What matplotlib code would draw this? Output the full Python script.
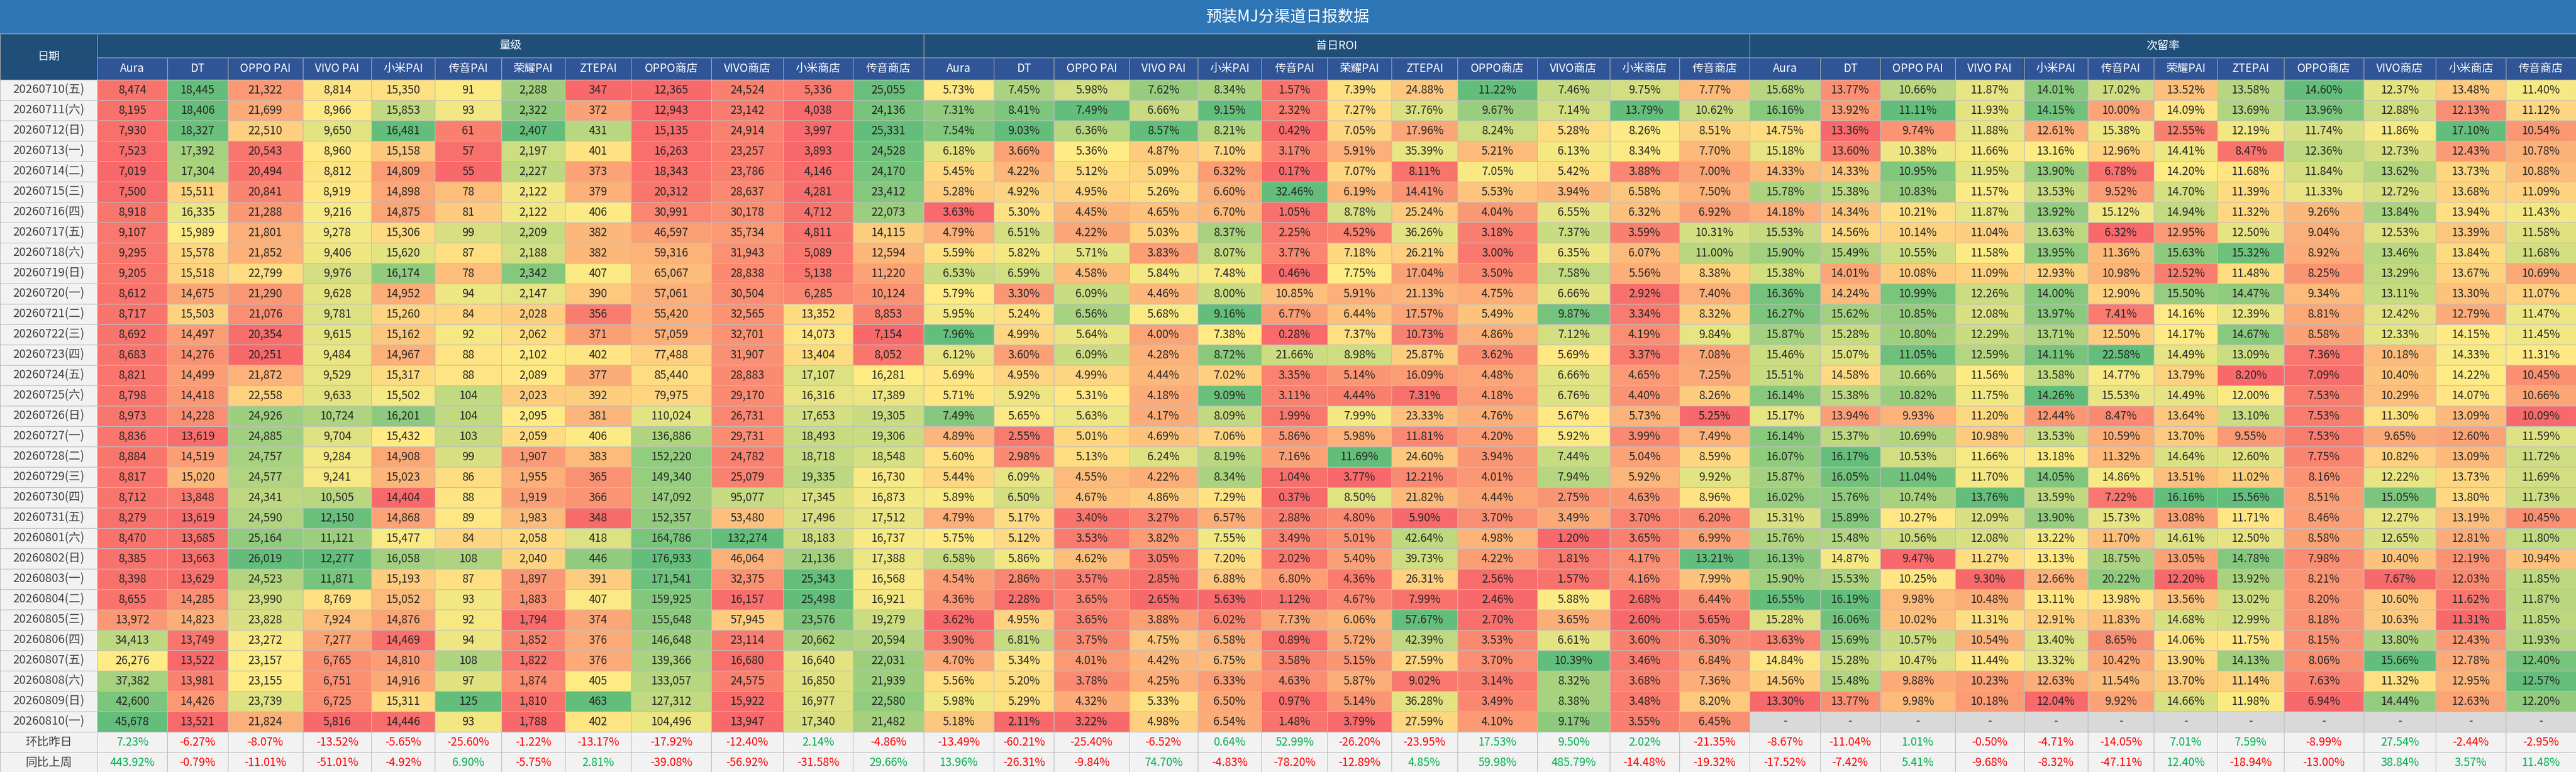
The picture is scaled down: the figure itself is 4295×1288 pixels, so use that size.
import numpy as np
import matplotlib
matplotlib.use('Agg')
import matplotlib.pyplot as plt
import matplotlib.patches as patches

plt.rcParams['font.family'] = ['Noto Sans CJK SC', 'DejaVu Sans']

title = '预装MJ分渠道日报数据'
groups = ['量级', '首日ROI', '次留率']
channels = ['Aura', 'DT', 'OPPO PAI', 'VIVO PAI', '小米PAI', '传音PAI', '荣耀PAI', 'ZTEPAI',
            'OPPO商店', 'VIVO商店', '小米商店', '传音商店']
dates = ['20260710(五)', '20260711(六)', '20260712(日)', '20260713(一)', '20260714(二)', '20260715(三)',
         '20260716(四)', '20260717(五)', '20260718(六)', '20260719(日)', '20260720(一)', '20260721(二)',
         '20260722(三)', '20260723(四)', '20260724(五)', '20260725(六)', '20260726(日)', '20260727(一)',
         '20260728(二)', '20260729(三)', '20260730(四)', '20260731(五)', '20260801(六)', '20260802(日)',
         '20260803(一)', '20260804(二)', '20260805(三)', '20260806(四)', '20260807(五)', '20260808(六)',
         '20260809(日)', '20260810(一)']
summary_labels = ['环比昨日', '同比上周']

volume = [
    [8474, 18445, 21322, 8814, 15350, 91, 2288, 347, 12365, 24524, 5336, 25055],
    [8195, 18406, 21699, 8966, 15853, 93, 2322, 372, 12943, 23142, 4038, 24136],
    [7930, 18327, 22510, 9650, 16481, 61, 2407, 431, 15135, 24914, 3997, 25331],
    [7523, 17392, 20543, 8960, 15158, 57, 2197, 401, 16263, 23257, 3893, 24528],
    [7019, 17304, 20494, 8812, 14809, 55, 2227, 373, 18343, 23786, 4146, 24170],
    [7500, 15511, 20841, 8919, 14898, 78, 2122, 379, 20312, 28637, 4281, 23412],
    [8918, 16335, 21288, 9216, 14875, 81, 2122, 406, 30991, 30178, 4712, 22073],
    [9107, 15989, 21801, 9278, 15306, 99, 2209, 382, 46597, 35734, 4811, 14115],
    [9295, 15578, 21852, 9406, 15620, 87, 2188, 382, 59316, 31943, 5089, 12594],
    [9205, 15518, 22799, 9976, 16174, 78, 2342, 407, 65067, 28838, 5138, 11220],
    [8612, 14675, 21290, 9628, 14952, 94, 2147, 390, 57061, 30504, 6285, 10124],
    [8717, 15503, 21076, 9781, 15260, 84, 2028, 356, 55420, 32565, 13352, 8853],
    [8692, 14497, 20354, 9615, 15162, 92, 2062, 371, 57059, 32701, 14073, 7154],
    [8683, 14276, 20251, 9484, 14967, 88, 2102, 402, 77488, 31907, 13404, 8052],
    [8821, 14499, 21872, 9529, 15317, 88, 2089, 377, 85440, 28883, 17107, 16281],
    [8798, 14418, 22558, 9633, 15502, 104, 2023, 392, 79975, 29170, 16316, 17389],
    [8973, 14228, 24926, 10724, 16201, 104, 2095, 381, 110024, 26731, 17653, 19305],
    [8836, 13619, 24885, 9704, 15432, 103, 2059, 406, 136886, 29731, 18493, 19306],
    [8884, 14519, 24757, 9284, 14908, 99, 1907, 383, 152220, 24782, 18718, 18548],
    [8817, 15020, 24577, 9241, 15023, 86, 1955, 365, 149340, 25079, 19335, 16730],
    [8712, 13848, 24341, 10505, 14404, 88, 1919, 366, 147092, 95077, 17345, 16873],
    [8279, 13619, 24590, 12150, 14868, 89, 1983, 348, 152357, 53480, 17496, 17512],
    [8470, 13685, 25164, 11121, 15477, 84, 2058, 418, 164786, 132274, 18183, 16737],
    [8385, 13663, 26019, 12277, 16058, 108, 2040, 446, 176933, 46064, 21136, 17388],
    [8398, 13629, 24523, 11871, 15193, 87, 1897, 391, 171541, 32375, 25343, 16568],
    [8655, 14285, 23990, 8769, 15052, 93, 1883, 407, 159925, 16157, 25498, 16921],
    [13972, 14823, 23828, 7924, 14876, 92, 1794, 374, 155648, 57945, 23576, 19279],
    [34413, 13749, 23272, 7277, 14469, 94, 1852, 376, 146648, 23114, 20662, 20594],
    [26276, 13522, 23157, 6765, 14810, 108, 1822, 376, 139366, 16680, 16640, 22031],
    [37382, 13981, 23155, 6751, 14916, 97, 1874, 405, 133057, 24575, 16850, 21939],
    [42600, 14426, 23739, 6725, 15311, 125, 1810, 463, 127312, 15922, 16977, 22580],
    [45678, 13521, 21824, 5816, 14446, 93, 1788, 402, 104496, 13947, 17340, 21482],
]
volume_dod = [7.23, -6.27, -8.07, -13.52, -5.65, -25.60, -1.22, -13.17, -17.92, -12.40, 2.14, -4.86]
volume_wow = [443.92, -0.79, -11.01, -51.01, -4.92, 6.90, -5.75, 2.81, -39.08, -56.92, -31.58, 29.66]

roi = [
    [5.73, 7.45, 5.98, 7.62, 8.34, 1.57, 7.39, 24.88, 11.22, 7.46, 9.75, 7.77],
    [7.31, 8.41, 7.49, 6.66, 9.15, 2.32, 7.27, 37.76, 9.67, 7.14, 13.79, 10.62],
    [7.54, 9.03, 6.36, 8.57, 8.21, 0.42, 7.05, 17.96, 8.24, 5.28, 8.26, 8.51],
    [6.18, 3.66, 5.36, 4.87, 7.10, 3.17, 5.91, 35.39, 5.21, 6.13, 8.34, 7.70],
    [5.45, 4.22, 5.12, 5.09, 6.32, 0.17, 7.07, 8.11, 7.05, 5.42, 3.88, 7.00],
    [5.28, 4.92, 4.95, 5.26, 6.60, 32.46, 6.19, 14.41, 5.53, 3.94, 6.58, 7.50],
    [3.63, 5.30, 4.45, 4.65, 6.70, 1.05, 8.78, 25.24, 4.04, 6.55, 6.32, 6.92],
    [4.79, 6.51, 4.22, 5.03, 8.37, 2.25, 4.52, 36.26, 3.18, 7.37, 3.59, 10.31],
    [5.59, 5.82, 5.71, 3.83, 8.07, 3.77, 7.18, 26.21, 3.00, 6.35, 6.07, 11.00],
    [6.53, 6.59, 4.58, 5.84, 7.48, 0.46, 7.75, 17.04, 3.50, 7.58, 5.56, 8.38],
    [5.79, 3.30, 6.09, 4.46, 8.00, 10.85, 5.91, 21.13, 4.75, 6.66, 2.92, 7.40],
    [5.95, 5.24, 6.56, 5.68, 9.16, 6.77, 6.44, 17.57, 5.49, 9.87, 3.34, 8.32],
    [7.96, 4.99, 5.64, 4.00, 7.38, 0.28, 7.37, 10.73, 4.86, 7.12, 4.19, 9.84],
    [6.12, 3.60, 6.09, 4.28, 8.72, 21.66, 8.98, 25.87, 3.62, 5.69, 3.37, 7.08],
    [5.69, 4.95, 4.99, 4.44, 7.02, 3.35, 5.14, 16.09, 4.48, 6.66, 4.65, 7.25],
    [5.71, 5.92, 5.31, 4.18, 9.09, 3.11, 4.44, 7.31, 4.18, 6.76, 4.40, 8.26],
    [7.49, 5.65, 5.63, 4.17, 8.09, 1.99, 7.99, 23.33, 4.76, 5.67, 5.73, 5.25],
    [4.89, 2.55, 5.01, 4.69, 7.06, 5.86, 5.98, 11.81, 4.20, 5.92, 3.99, 7.49],
    [5.60, 2.98, 5.13, 6.24, 8.19, 7.16, 11.69, 24.60, 3.94, 7.44, 5.04, 8.59],
    [5.44, 6.09, 4.55, 4.22, 8.34, 1.04, 3.77, 12.21, 4.01, 7.94, 5.92, 9.92],
    [5.89, 6.50, 4.67, 4.86, 7.29, 0.37, 8.50, 21.82, 4.44, 2.75, 4.63, 8.96],
    [4.79, 5.17, 3.40, 3.27, 6.57, 2.88, 4.80, 5.90, 3.70, 3.49, 3.70, 6.20],
    [5.75, 5.12, 3.53, 3.82, 7.55, 3.49, 5.01, 42.64, 4.98, 1.20, 3.65, 6.99],
    [6.58, 5.86, 4.62, 3.05, 7.20, 2.02, 5.40, 39.73, 4.22, 1.81, 4.17, 13.21],
    [4.54, 2.86, 3.57, 2.85, 6.88, 6.80, 4.36, 26.31, 2.56, 1.57, 4.16, 7.99],
    [4.36, 2.28, 3.65, 2.65, 5.63, 1.12, 4.67, 7.99, 2.46, 5.88, 2.68, 6.44],
    [3.62, 4.95, 3.65, 3.88, 6.02, 7.73, 6.06, 57.67, 2.70, 3.65, 2.60, 5.65],
    [3.90, 6.81, 3.75, 4.75, 6.58, 0.89, 5.72, 42.39, 3.53, 6.61, 3.60, 6.30],
    [4.70, 5.34, 4.01, 4.42, 6.75, 3.58, 5.15, 27.59, 3.70, 10.39, 3.46, 6.84],
    [5.56, 5.20, 3.78, 4.25, 6.33, 4.63, 5.87, 9.02, 3.14, 8.32, 3.68, 7.36],
    [5.98, 5.29, 4.32, 5.33, 6.50, 0.97, 5.14, 36.28, 3.49, 8.38, 3.48, 8.20],
    [5.18, 2.11, 3.22, 4.98, 6.54, 1.48, 3.79, 27.59, 4.10, 9.17, 3.55, 6.45],
]
roi_dod = [-13.49, -60.21, -25.40, -6.52, 0.64, 52.99, -26.20, -23.95, 17.53, 9.50, 2.02, -21.35]
roi_wow = [13.96, -26.31, -9.84, 74.70, -4.83, -78.20, -12.89, 4.85, 59.98, 485.79, -14.48, -19.32]

retention = [
    [15.68, 13.77, 10.66, 11.87, 14.01, 17.02, 13.52, 13.58, 14.60, 12.37, 13.48, 11.40],
    [16.16, 13.92, 11.11, 11.93, 14.15, 10.00, 14.09, 13.69, 13.96, 12.88, 12.13, 11.12],
    [14.75, 13.36, 9.74, 11.88, 12.61, 15.38, 12.55, 12.19, 11.74, 11.86, 17.10, 10.54],
    [15.18, 13.60, 10.38, 11.66, 13.16, 12.96, 14.41, 8.47, 12.36, 12.73, 12.43, 10.78],
    [14.33, 14.33, 10.95, 11.95, 13.90, 6.78, 14.20, 11.68, 11.84, 13.62, 13.73, 10.88],
    [15.78, 15.38, 10.83, 11.57, 13.53, 9.52, 14.70, 11.39, 11.33, 12.72, 13.68, 11.09],
    [14.18, 14.34, 10.21, 11.87, 13.92, 15.12, 14.94, 11.32, 9.26, 13.84, 13.94, 11.43],
    [15.53, 14.56, 10.14, 11.04, 13.63, 6.32, 12.95, 12.50, 9.04, 12.53, 13.39, 11.58],
    [15.90, 15.49, 10.55, 11.58, 13.95, 11.36, 15.63, 15.32, 8.92, 13.46, 13.84, 11.68],
    [15.38, 14.01, 10.08, 11.09, 12.93, 10.98, 12.52, 11.48, 8.25, 13.29, 13.67, 10.69],
    [16.36, 14.24, 10.99, 12.26, 14.00, 12.90, 15.50, 14.47, 9.34, 13.11, 13.30, 11.07],
    [16.27, 15.62, 10.85, 12.08, 13.97, 7.41, 14.16, 12.39, 8.81, 12.42, 12.79, 11.47],
    [15.87, 15.28, 10.80, 12.29, 13.71, 12.50, 14.17, 14.67, 8.58, 12.33, 14.15, 11.45],
    [15.46, 15.07, 11.05, 12.59, 14.11, 22.58, 14.49, 13.09, 7.36, 10.18, 14.33, 11.31],
    [15.51, 14.58, 10.66, 11.56, 13.58, 14.77, 13.79, 8.20, 7.09, 10.40, 14.22, 10.45],
    [16.14, 15.38, 10.82, 11.75, 14.26, 15.53, 14.49, 12.00, 7.53, 10.29, 14.07, 10.66],
    [15.17, 13.94, 9.93, 11.20, 12.44, 8.47, 13.64, 13.10, 7.53, 11.30, 13.09, 10.09],
    [16.14, 15.37, 10.69, 10.98, 13.53, 10.59, 13.70, 9.55, 7.53, 9.65, 12.60, 11.59],
    [16.07, 16.17, 10.53, 11.66, 13.18, 11.32, 14.64, 12.60, 7.75, 10.82, 13.09, 11.72],
    [15.87, 16.05, 11.04, 11.70, 14.05, 14.86, 13.51, 11.02, 8.16, 12.22, 13.73, 11.69],
    [16.02, 15.76, 10.74, 13.76, 13.59, 7.22, 16.16, 15.56, 8.51, 15.05, 13.80, 11.73],
    [15.31, 15.89, 10.27, 12.09, 13.90, 15.73, 13.08, 11.71, 8.46, 12.27, 13.19, 10.45],
    [15.76, 15.48, 10.56, 12.08, 13.22, 11.70, 14.61, 12.50, 8.58, 12.65, 12.81, 11.80],
    [16.13, 14.87, 9.47, 11.27, 13.13, 18.75, 13.05, 14.78, 7.98, 10.40, 12.19, 10.94],
    [15.90, 15.53, 10.25, 9.30, 12.66, 20.22, 12.20, 13.92, 8.21, 7.67, 12.03, 11.85],
    [16.55, 16.19, 9.98, 10.48, 13.11, 13.98, 13.56, 13.02, 8.20, 10.60, 11.62, 11.87],
    [15.28, 16.06, 10.02, 11.31, 12.91, 11.83, 14.68, 12.99, 8.18, 10.63, 11.31, 11.85],
    [13.63, 15.69, 10.57, 10.54, 13.40, 8.65, 14.06, 11.75, 8.15, 13.80, 12.43, 11.93],
    [14.84, 15.28, 10.47, 11.44, 13.32, 10.42, 13.90, 14.13, 8.06, 15.66, 12.78, 12.40],
    [14.56, 15.48, 9.88, 10.23, 12.63, 11.54, 13.70, 11.14, 7.63, 11.32, 12.95, 12.57],
    [13.30, 13.77, 9.98, 10.18, 12.04, 9.92, 14.66, 11.98, 6.94, 14.44, 12.63, 12.20],
    [None] * 12,
]
retention_dod = [-8.67, -11.04, 1.01, -0.50, -4.71, -14.05, 7.01, 7.59, -8.99, 27.54, -2.44, -2.95]
retention_wow = [-17.52, -7.42, 5.41, -9.68, -8.32, -47.11, 12.40, -18.94, -13.00, 38.84, 3.57, 11.48]

# layout in pixels
W, H = 4295, 1288
title_h, group_h, head_h = 56, 40, 37
row_h = 34
date_w = 162
sub_w = np.array([117, 100, 125, 114, 106, 110, 106, 110, 133, 120, 116, 117], dtype=float)
sub_w = sub_w * (W - date_w) / (3 * sub_w.sum())

RED = np.array([248, 105, 107]) / 255
YEL = np.array([255, 235, 132]) / 255
GRN = np.array([99, 190, 123]) / 255


def scale_color(v, lo, mid, hi):
    if v <= mid:
        t = 0 if mid == lo else (v - lo) / (mid - lo)
        return RED + (YEL - RED) * t
    t = 0 if hi == mid else (v - mid) / (hi - mid)
    return YEL + (GRN - YEL) * t


fig = plt.figure(figsize=(W / 100, H / 100), dpi=100)
ax = fig.add_axes([0, 0, 1, 1])
ax.set_xlim(0, W)
ax.set_ylim(H, 0)
ax.axis('off')

grid = '#BFBFBF'
fs = 13.5


def cell(x, y, w, h, fc, text='', color='#262626', size=fs, ec=grid, lw=0.8):
    ax.add_patch(patches.Rectangle((x, y), w, h, facecolor=fc, edgecolor=ec, linewidth=lw))
    if text:
        ax.text(x + w / 2, y + h / 2, text, ha='center', va='center', fontsize=size, color=color)


# title
cell(0, 0, W, title_h, '#2E75B6', title, color='white', size=19, ec='#2E75B6')
# date header
cell(0, title_h, date_w, group_h + head_h, '#1F4E79', '日期', color='white', size=fs, ec='#A6A6A6')

body_top = title_h + group_h + head_h
for r, d in enumerate(dates):
    cell(0, body_top + r * row_h, date_w, row_h, '#F2F2F2', d, color='#404040', size=14)
for k, s in enumerate(summary_labels):
    cell(0, body_top + (len(dates) + k) * row_h, date_w, row_h, '#F2F2F2', s, color='#404040', size=14)

blocks = [
    (volume, volume_dod, volume_wow, lambda v: f'{v:,.0f}'),
    (roi, roi_dod, roi_wow, lambda v: f'{v:.2f}%'),
    (retention, retention_dod, retention_wow, lambda v: f'{v:.2f}%'),
]

x0 = date_w
for g, (data, dod, wow, fmt) in enumerate(blocks):
    gw = sub_w.sum()
    cell(x0, title_h, gw, group_h, '#1F4E79', groups[g], color='white', ec='#A6A6A6')
    arr = np.array([[np.nan if v is None else v for v in row] for row in data], dtype=float)
    xs = x0 + np.concatenate([[0], np.cumsum(sub_w)[:-1]])
    for c in range(12):
        cell(xs[c], title_h + group_h, sub_w[c], head_h, '#2F5597', channels[c], color='white',
             ec='#A6A6A6')
        col = arr[:, c]
        lo, hi = np.nanmin(col), np.nanmax(col)
        mid = (lo + hi) / 2
        for r in range(len(dates)):
            v = col[r]
            y = body_top + r * row_h
            if np.isnan(v):
                cell(xs[c], y, sub_w[c], row_h, '#D9D9D9', '-', color='#404040')
            else:
                cell(xs[c], y, sub_w[c], row_h, scale_color(v, lo, mid, hi), fmt(v))
        for k, vals in enumerate([dod, wow]):
            v = vals[c]
            y = body_top + (len(dates) + k) * row_h
            cell(xs[c], y, sub_w[c], row_h, '#F2F2F2', f'{v:.2f}%',
                 color='#00B050' if v >= 0 else '#FF0000')
    x0 += gw

fig.savefig('out.png', dpi=100)
